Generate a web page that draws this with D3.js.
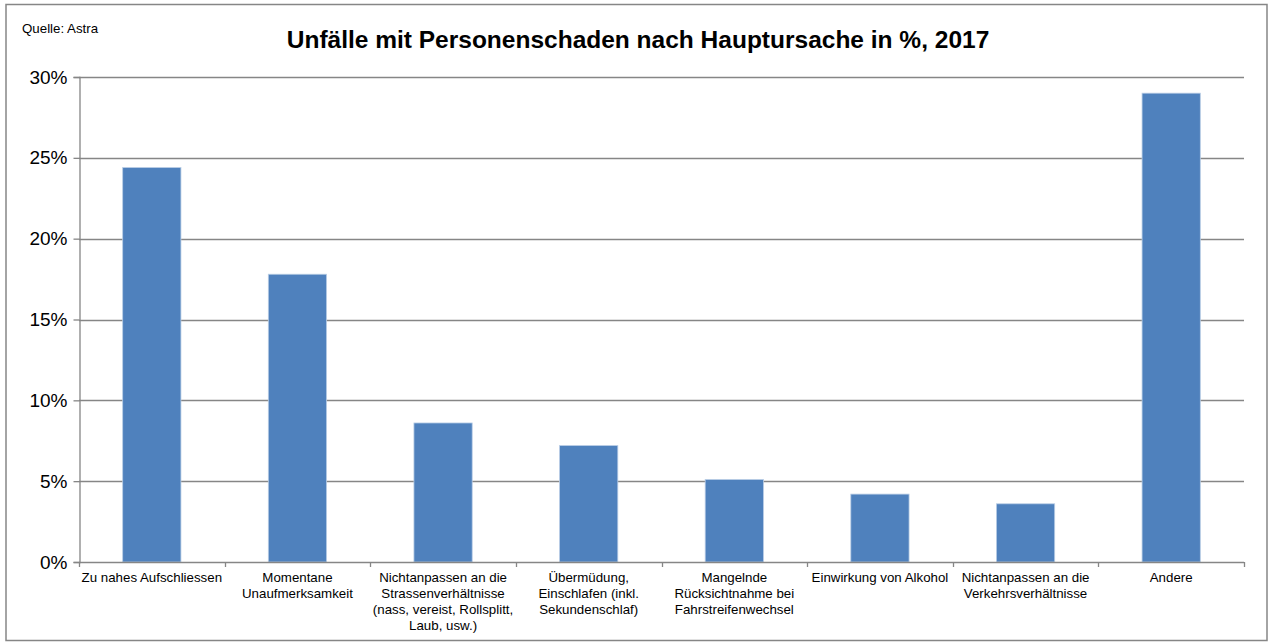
<!DOCTYPE html>
<html>
<head>
<meta charset="utf-8">
<script src="https://cdn.jsdelivr.net/npm/d3@7"></script>
<style>
  body { margin: 0; background: #fff; }
  svg text { font-family: "Liberation Sans", Arial, sans-serif; fill: #000; }
</style>
</head>
<body>
<div id="chart"></div>
<script>
// data
const categories = [
  "Zu nahes Aufschliessen",
  "Momentane Unaufmerksamkeit",
  "Nichtanpassen an die Strassenverhältnisse (nass, vereist, Rollsplitt, Laub, usw.)",
  "Übermüdung, Einschlafen (inkl. Sekundenschlaf)",
  "Mangelnde Rücksichtnahme bei Fahrstreifenwechsel",
  "Einwirkung von Alkohol",
  "Nichtanpassen an die Verkehrsverhältnisse",
  "Andere"
];
// how the tick labels break into lines
const labelLines = [
  ["Zu nahes Aufschliessen"],
  ["Momentane", "Unaufmerksamkeit"],
  ["Nichtanpassen an die", "Strassenverhältnisse", "(nass, vereist, Rollsplitt,", "Laub, usw.)"],
  ["Übermüdung,", "Einschlafen (inkl.", "Sekundenschlaf)"],
  ["Mangelnde", "Rücksichtnahme bei", "Fahrstreifenwechsel"],
  ["Einwirkung von Alkohol"],
  ["Nichtanpassen an die", "Verkehrsverhältnisse"],
  ["Andere"]
];
const values = [24.4, 17.8, 8.6, 7.2, 5.1, 4.2, 3.6, 29.0];
const yTicks = [0, 5, 10, 15, 20, 25, 30];

const W = 1271, H = 642;
const plot = { left: 79, right: 1244, top: 77, bottom: 562 };

const svg = d3.select("#chart").append("svg")
  .attr("width", W)
  .attr("height", H);

// outer frame
svg.append("rect")
  .attr("x", 6).attr("y", 4.5)
  .attr("width", 1261).attr("height", 636)
  .attr("fill", "#fff")
  .attr("stroke", "#868686")
  .attr("stroke-width", 1.5);

svg.append("text")
  .attr("x", 22).attr("y", 33)
  .style("font-size", "13.3px")
  .text("Quelle: Astra");

svg.append("text")
  .attr("x", 638).attr("y", 48)
  .attr("text-anchor", "middle")
  .style("font-size", "24.5px")
  .style("font-weight", "bold")
  .text("Unfälle mit Personenschaden nach Hauptursache in %, 2017");

const x = d3.scaleBand()
  .domain(categories)
  .range([plot.left, plot.right])
  .paddingInner(0.6)
  .paddingOuter(0.3);

const y = d3.scaleLinear()
  .domain([0, 30])
  .range([plot.bottom, plot.top]);

// gridlines
svg.append("g")
  .selectAll("line")
  .data(yTicks.filter(d => d > 0))
  .join("line")
  .attr("x1", plot.left).attr("x2", plot.right)
  .attr("y1", d => Math.round(y(d)) + 0.5)
  .attr("y2", d => Math.round(y(d)) + 0.5)
  .attr("stroke", "#868686")
  .attr("stroke-width", 1.3);

// y axis
const yAxis = svg.append("g")
  .attr("transform", `translate(${plot.left + 0.5},0)`)
  .call(d3.axisLeft(y).tickValues(yTicks).tickSize(6).tickPadding(6).tickFormat(d => d + "%"));
yAxis.select(".domain").attr("stroke", "#868686").attr("stroke-width", 1.3);
yAxis.selectAll(".tick line").attr("stroke", "#868686").attr("stroke-width", 1.3);
yAxis.selectAll(".tick text")
  .style("font-size", "19px")
  .style("font-family", "'Liberation Sans', Arial, sans-serif")
  .attr("fill", "#000");

// bars
svg.append("g")
  .selectAll("rect")
  .data(values)
  .join("rect")
  .attr("x", (d, i) => x(categories[i]))
  .attr("y", d => y(d))
  .attr("width", x.bandwidth())
  .attr("height", d => y(0) - y(d))
  .attr("fill", "#4f81bd")
  .attr("stroke", "#b9cde5")
  .attr("stroke-width", 0.8);

// x axis line and tick marks on the category borders
const step = x.step();
const borders = d3.range(categories.length + 1).map(i => plot.left + i * step);
const xAxis = svg.append("g");
xAxis.append("line")
  .attr("x1", plot.left).attr("x2", plot.right)
  .attr("y1", plot.bottom + 0.5).attr("y2", plot.bottom + 0.5)
  .attr("stroke", "#868686")
  .attr("stroke-width", 1.3);
xAxis.selectAll("line.tick")
  .data(borders)
  .join("line")
  .attr("class", "tick")
  .attr("x1", d => Math.round(d) + 0.5).attr("x2", d => Math.round(d) + 0.5)
  .attr("y1", plot.bottom).attr("y2", plot.bottom + 5)
  .attr("stroke", "#868686")
  .attr("stroke-width", 1.3);

// category labels
svg.append("g")
  .selectAll("text")
  .data(labelLines)
  .join("text")
  .attr("text-anchor", "middle")
  .style("font-size", "13.3px")
  .attr("transform", (d, i) => `translate(${x(categories[i]) + x.bandwidth() / 2},582)`)
  .selectAll("tspan")
  .data(d => d)
  .join("tspan")
  .attr("x", 0)
  .attr("y", (d, i) => i * 16)
  .text(d => d);
</script>
</body>
</html>
